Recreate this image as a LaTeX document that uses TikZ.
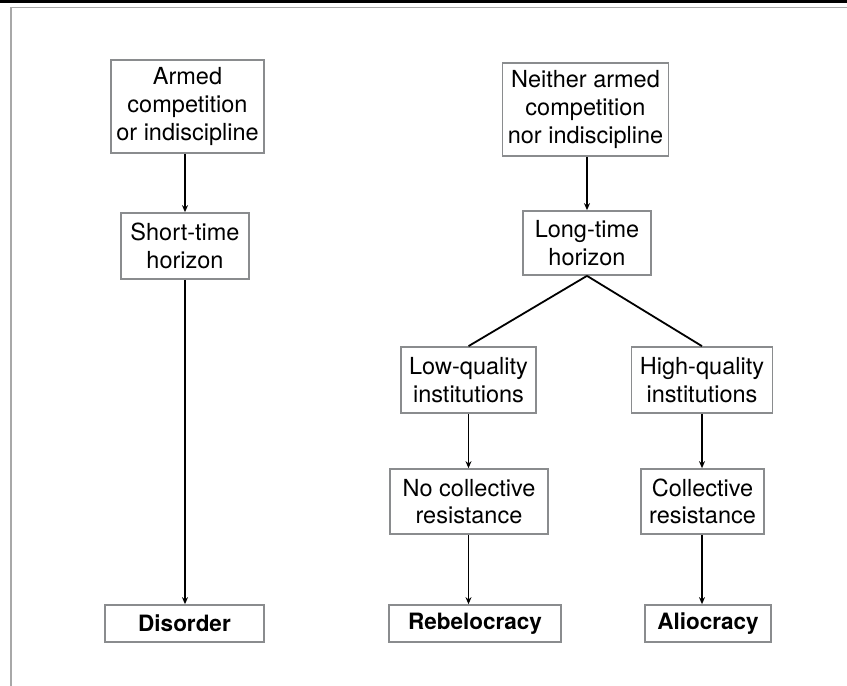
\documentclass[tikz,border=0pt]{standalone}
\usepackage{fontspec}
\setmainfont{TeX Gyre Heros}
\usetikzlibrary{arrows.meta}
\definecolor{boxgray}{HTML}{8A8C8E}
\definecolor{framegray}{HTML}{A8A8A8}
\tikzset{
  box/.style={draw=boxgray, line width=1.7pt, fill=white, align=center, inner sep=0pt,
    font=\fontsize{23.5}{27.7}\selectfont, text=black},
  endbox/.style={box, font=\fontsize{22.5}{27.7}\selectfont\bfseries},
  arr/.style={line width=1.8pt, -{Stealth[length=7pt,width=6pt]}},
  link/.style={line width=1.8pt}
}
\begin{document}
\begin{tikzpicture}[x=1pt,y=-1pt]
\useasboundingbox (0,0) rectangle (847,686);
\fill[white] (0,0) rectangle (847,686);
\draw[line width=3pt] (0,1.5) -- (847,1.5);
\draw[framegray, line width=1.5pt] (11,686) -- (11,7.5) -- (847,7.5);

\node[box, minimum width=153pt, minimum height=93pt] (a1) at (187.5,106.5) {Armed\\competition\\or indiscipline};
\node[box, minimum width=128pt, minimum height=66pt] (a2) at (185,246) {Short-time\\horizon};
\node[endbox, minimum width=159pt, minimum height=37pt] (a3) at (184.5,623.5) {Disorder};

\node[box, minimum width=166pt, minimum height=93pt] (b1) at (585.5,109.5) {Neither armed\\competition\\nor indiscipline};
\node[box, minimum width=128pt, minimum height=64pt] (b2) at (587,243) {Long-time\\horizon};

\node[box, minimum width=135pt, minimum height=66pt] (c1) at (468.5,380) {Low-quality\\institutions};
\node[box, minimum width=158pt, minimum height=65pt] (c2) at (469,501.5) {No collective\\resistance};
\node[endbox, minimum width=172pt, minimum height=37pt] (c3) at (475,623.5) {Rebelocracy};

\node[box, minimum width=141pt, minimum height=66pt] (d1) at (702,380) {High-quality\\institutions};
\node[box, minimum width=123pt, minimum height=65pt] (d2) at (702.5,501.5) {Collective\\resistance};
\node[endbox, minimum width=126pt, minimum height=37pt] (d3) at (708,623.5) {Aliocracy};

\draw[arr] (a1.south -| a2.north) -- (a2.north);
\draw[arr] (a2.south) -- (a2.south |- a3.north);
\draw[arr] (b1.south -| b2.north) -- (b2.north);
\draw[link] (b2.south) -- (c1.north);
\draw[link] (b2.south) -- (d1.north);
\draw[arr] (c1.south) -- (c1.south |- c2.north);
\draw[arr] (c1.south |- c2.south) -- (c1.south |- c3.north);
\draw[arr] (d1.south) -- (d1.south |- d2.north);
\draw[arr] (d1.south |- d2.south) -- (d1.south |- d3.north);
\end{tikzpicture}
\end{document}
